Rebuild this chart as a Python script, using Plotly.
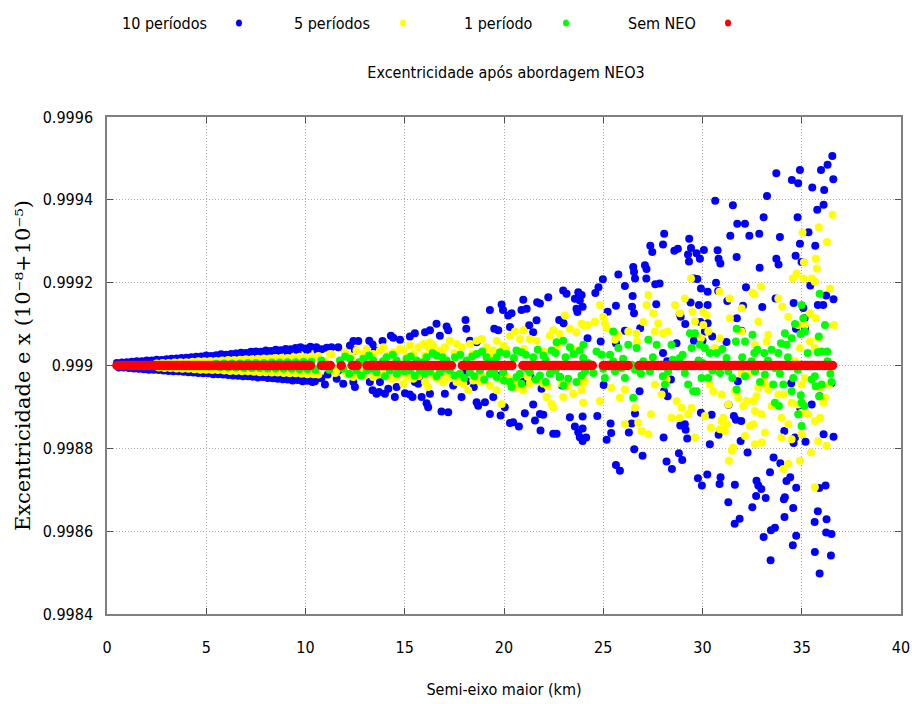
import plotly.graph_objects as go

# ---------------- data ----------------
legend_labels = ["10 períodos", "5 períodos", "1 período", "Sem NEO"]
series_colors = ["#0000ff", "#ffff00", "#00ff00", "#ff0000"]

x_ticks = [0, 5, 10, 15, 20, 25, 30, 35, 40]
x_tick_labels = ["0", "5", "10", "15", "20", "25", "30", "35", "40"]
y_ticks = [0.9984, 0.9986, 0.9988, 0.9990, 0.9992, 0.9994, 0.9996]
y_tick_labels = ["0.9984", "0.9986", "0.9988", "0.999", "0.9992", "0.9994", "0.9996"]

# 10 períodos (blue)
blue_x = [
    0.5, 0.75, 1.0, 1.25, 1.5, 1.75, 2.0, 2.25, 2.5, 2.75,
    3.0, 3.25, 3.5, 3.75, 4.0, 4.25, 4.5, 4.75, 5.0, 5.25,
    5.5, 5.75, 6.0, 6.25, 6.5, 6.75, 7.0, 7.25, 7.5, 7.75,
    8.0, 8.25, 8.5, 8.75, 9.0, 9.25, 9.5, 9.75, 10.0, 10.25,
    0.6, 0.85, 1.1, 1.35, 1.6, 1.85, 2.1, 2.35, 2.6, 2.85,
    3.1, 3.35, 3.6, 3.85, 4.1, 4.35, 4.6, 4.85, 5.1, 5.35,
    5.6, 5.85, 6.1, 6.35, 6.6, 6.85, 7.1, 7.35, 7.6, 7.85,
    8.1, 8.35, 8.6, 8.85, 9.1, 9.35, 9.6, 9.85, 10.1, 10.35,
    6.1, 6.6, 7.1, 7.6, 8.1, 8.6, 9.1, 9.6, 10.1, 10.6,
    6.3, 6.8, 7.3, 7.8, 8.3, 8.8, 9.3, 9.8, 10.3, 10.8,
    10.55, 10.81, 11.07, 10.48, 10.98, 11.12,
    11.31, 11.65, 12.41, 12.66, 12.24, 12.49, 13.21, 13.38, 13.50, 13.88,
    14.30, 14.42, 14.76, 15.26, 15.51, 16.02, 16.27, 16.60, 16.77, 17.11,
    17.19, 18.06, 18.10, 18.28, 18.62, 19.29, 19.88, 19.95, 20.21, 20.38,
    20.30, 19.51, 19.71, 20.97, 20.88, 21.14, 21.27, 21.47, 21.67, 21.81,
    21.64, 22.23, 22.98, 23.15, 23.74, 23.57, 23.82, 23.65, 23.70, 22.78,
    23.00,
    11.65, 11.57, 11.90, 12.41, 12.49, 13.24, 13.38, 13.58, 13.71, 14.00,
    13.75, 14.17, 14.59, 14.50, 15.01, 15.26, 15.39, 15.51, 15.68, 15.73,
    15.85, 16.27, 16.18, 16.10, 16.85, 17.19, 17.02, 17.44, 17.86, 18.03,
    18.11, 18.62, 18.70, 19.04, 19.29, 19.46, 19.83, 20.30, 20.46, 20.04,
    20.75, 21.05, 21.56, 21.81, 21.98, 21.47, 21.84, 22.48, 22.65, 22.81,
    22.93, 23.32, 23.57, 23.82, 23.74, 21.24, 21.34, 21.89, 20.97, 19.83,
    18.48,
    36.54, 36.30, 35.97, 36.59, 36.13, 35.53, 34.91, 34.82, 34.50, 33.72,
    36.10, 35.78, 34.79, 33.25, 33.08, 31.53, 30.64, 31.75, 32.14, 31.40,
    32.36, 32.86, 33.90, 35.34, 34.91, 35.68, 28.07, 28.01, 27.37, 27.47,
    28.58, 28.76, 29.33, 29.42, 29.27, 29.32, 29.70, 29.87, 30.07, 30.76,
    30.81, 30.90, 31.72, 32.88, 33.72, 33.83, 34.69, 34.99, 26.51, 26.55,
    25.76, 27.10, 27.18, 26.60, 27.17, 26.09, 27.62, 27.84, 29.57, 29.74,
    29.92, 30.26, 30.68, 30.79, 32.19, 33.01, 32.04, 31.25, 33.68, 34.59,
    35.08, 35.43, 35.81, 36.08, 36.23, 36.60, 26.48, 26.45, 26.55, 25.64,
    27.67, 28.86, 28.90, 29.40, 29.82, 30.26, 29.13, 29.89, 30.26, 30.12,
    29.57, 30.00, 30.49, 31.21, 31.73, 31.97, 35.14, 34.71, 35.16, 24.60,
    24.76, 24.98, 23.91, 23.96, 24.21, 25.22, 26.09, 24.87, 25.64, 26.86,
    28.01, 28.22, 28.41, 28.06, 26.83, 25.02, 26.60, 26.43, 26.29, 26.56,
    26.98, 25.37, 25.40, 25.17, 24.70, 23.96, 23.96, 23.96, 24.14, 28.04,
    28.88, 29.11, 29.15, 29.23, 29.92, 30.37, 30.46, 30.81, 28.81, 28.98,
    28.19, 28.46, 25.64, 25.84, 29.77, 29.97, 30.24, 30.91, 30.86, 31.63,
    31.30, 31.62, 31.87, 31.58, 31.68, 31.95, 31.92, 32.27, 32.72, 32.81,
    32.96, 32.70, 33.18, 32.51, 33.08, 33.45, 33.65, 33.40, 33.92, 33.58,
    34.10, 34.15, 34.23, 34.42, 34.57, 34.72, 33.43, 34.55, 34.72, 34.13,
    34.12, 34.59, 35.19, 34.66, 34.92, 35.50, 35.90, 36.49, 36.10, 36.60,
    35.88, 36.20, 35.81, 35.65, 36.25, 36.23, 36.50, 35.66, 36.47, 35.90,
    34.47, 31.78, 31.31, 28.24, 28.69,
]
blue_y = [
    0.999006, 0.999007, 0.999008, 0.999009, 0.999010, 0.999010, 0.999012, 0.999012, 0.999014, 0.999013,
    0.999015, 0.999016, 0.999017, 0.999018, 0.999019, 0.999020, 0.999021, 0.999022, 0.999024, 0.999023,
    0.999025, 0.999027, 0.999026, 0.999028, 0.999029, 0.999031, 0.999030, 0.999033, 0.999034, 0.999033,
    0.999036, 0.999035, 0.999038, 0.999037, 0.999040, 0.999039, 0.999042, 0.999044, 0.999041, 0.999045,
    0.998995, 0.998995, 0.998994, 0.998993, 0.998992, 0.998991, 0.998990, 0.998990, 0.998989, 0.998988,
    0.998987, 0.998986, 0.998986, 0.998985, 0.998984, 0.998983, 0.998982, 0.998981, 0.998981, 0.998979,
    0.998979, 0.998978, 0.998977, 0.998976, 0.998975, 0.998974, 0.998974, 0.998973, 0.998971, 0.998972,
    0.998970, 0.998969, 0.998968, 0.998967, 0.998966, 0.998964, 0.998965, 0.998962, 0.998963, 0.998960,
    0.999020, 0.999022, 0.999024, 0.999026, 0.999028, 0.999030, 0.999031, 0.999033, 0.999034, 0.999036,
    0.998982, 0.998980, 0.998979, 0.998977, 0.998976, 0.998974, 0.998973, 0.998971, 0.998970, 0.998969,
    0.999044, 0.999039, 0.999043, 0.998962, 0.998954, 0.998978,
    0.999044, 0.999044, 0.999059, 0.999059, 0.999048, 0.999036, 0.999060, 0.999051, 0.999036, 0.999059,
    0.999072, 0.999067, 0.999062, 0.999070, 0.999078, 0.999080, 0.999085, 0.999101, 0.999072, 0.999094,
    0.999085, 0.999110, 0.999089, 0.999060, 0.999056, 0.999134, 0.999147, 0.999134, 0.999121, 0.999126,
    0.999093, 0.999089, 0.999085, 0.999159, 0.999134, 0.999137, 0.999097, 0.999080, 0.999153, 0.999150,
    0.999109, 0.999165, 0.999181, 0.999173, 0.999177, 0.999161, 0.999157, 0.999137, 0.999129, 0.999110,
    0.999102,
    0.998988, 0.998968, 0.998956, 0.998960, 0.998948, 0.998960, 0.998940, 0.998932, 0.998936, 0.998932,
    0.998960, 0.998944, 0.998948, 0.998924, 0.998933, 0.998930, 0.998924, 0.998960, 0.998956, 0.998972,
    0.998924, 0.998932, 0.998899, 0.998909, 0.998889, 0.998887, 0.998932, 0.998952, 0.998924, 0.998980,
    0.998962, 0.998911, 0.998903, 0.998911, 0.998883, 0.998924, 0.998879, 0.998861, 0.998863, 0.998899,
    0.998853, 0.998885, 0.998867, 0.998883, 0.998881, 0.998906, 0.998843, 0.998835, 0.998835, 0.998972,
    0.998952, 0.998875, 0.998853, 0.998827, 0.998839, 0.998996, 0.998972, 0.998944, 0.998960, 0.998976,
    0.998948,
    0.999506, 0.999485, 0.999472, 0.999450, 0.999424, 0.999430, 0.999472, 0.999440, 0.999448, 0.999464,
    0.999388, 0.999376, 0.999358, 0.999409, 0.999358, 0.999387, 0.999398, 0.999342, 0.999342, 0.999313,
    0.999313, 0.999318, 0.999310, 0.999322, 0.999294, 0.999289, 0.999318, 0.999292, 0.999289, 0.999274,
    0.999277, 0.999282, 0.999306, 0.999284, 0.999268, 0.999251, 0.999271, 0.999258, 0.999279, 0.999278,
    0.999258, 0.999246, 0.999262, 0.999236, 0.999258, 0.999244, 0.999265, 0.999250, 0.999238, 0.999226,
    0.999220, 0.999242, 0.999233, 0.999210, 0.999210, 0.999192, 0.999196, 0.999198, 0.999210, 0.999209,
    0.999186, 0.999178, 0.999200, 0.999180, 0.999189, 0.999141, 0.999144, 0.999156, 0.999162, 0.999151,
    0.999139, 0.999193, 0.999146, 0.999146, 0.999169, 0.999160, 0.999168, 0.999142, 0.999126, 0.999144,
    0.999148, 0.999124, 0.999118, 0.999152, 0.999146, 0.999146, 0.999100, 0.999105, 0.999102, 0.999082,
    0.999060, 0.999060, 0.999070, 0.999057, 0.999114, 0.999084, 0.999114, 0.999089, 0.999090, 0.999175,
    0.999189, 0.999208, 0.999170, 0.999142, 0.999066, 0.999130, 0.999084, 0.999058, 0.999054, 0.999090,
    0.999030, 0.999010, 0.998966, 0.998938, 0.998938, 0.998953, 0.998884, 0.998860, 0.998838, 0.998798,
    0.998782, 0.998860, 0.998837, 0.998821, 0.998878, 0.998877, 0.998848, 0.998818, 0.998826, 0.998826,
    0.998855, 0.998858, 0.998845, 0.998824, 0.998886, 0.998810, 0.998881, 0.998833, 0.998788, 0.998772,
    0.998768, 0.998750, 0.998760, 0.998746, 0.998728, 0.998710, 0.998737, 0.998730, 0.998714, 0.998712,
    0.998670, 0.998618, 0.998630, 0.998878, 0.998869, 0.998866, 0.998818, 0.998790, 0.998722, 0.998710,
    0.998702, 0.998685, 0.998680, 0.998658, 0.998586, 0.998602, 0.998608, 0.998742, 0.998764, 0.998778,
    0.998677, 0.998682, 0.998721, 0.998730, 0.998656, 0.998705, 0.998530, 0.998566, 0.998589, 0.998634,
    0.998842, 0.998813, 0.998816, 0.998826, 0.998898, 0.998906, 0.998926, 0.998957, 0.998834, 0.998828,
    0.998704, 0.998710, 0.998648, 0.998622, 0.998629, 0.998597, 0.998593, 0.998550, 0.998541, 0.998498,
    0.998957, 0.998962, 0.998905, 0.998926, 0.999054,
]

# 5 períodos (yellow)
yellow_x = [
    2.5, 2.8, 3.1, 3.4, 3.7, 4.0, 4.3, 4.6, 4.9, 5.2,
    5.5, 5.8, 6.1, 6.4, 6.7, 7.0, 7.3, 7.6, 7.9, 8.2,
    8.5, 8.8, 9.1, 9.4, 9.7, 10.0, 10.3,
    2.6, 2.9, 3.2, 3.5, 3.8, 4.1, 4.4, 4.7, 5.0, 5.3,
    5.6, 5.9, 6.2, 6.5, 6.8, 7.1, 7.4, 7.7, 8.0, 8.3,
    8.6, 8.9, 9.2, 9.5, 9.8, 10.1, 10.4,
    10.65, 10.98, 11.3, 10.65, 11.5,
    11.23, 11.99, 12.57, 12.91, 13.75, 13.92, 14.42, 14.76, 14.92, 15.43,
    15.68, 15.93, 16.18, 16.27, 16.43, 16.77, 17.02, 17.27, 17.61, 17.86,
    18.28, 18.62, 18.87, 19.12, 19.46, 19.63, 19.96, 20.30, 20.55, 20.80,
    20.97, 21.30, 21.64, 22.31, 22.48, 22.81, 23.07, 23.32, 23.65, 23.91,
    11.57, 12.07, 12.41, 12.91, 13.41, 13.92, 14.34, 14.59, 14.92, 15.43,
    16.02, 16.18, 16.60, 16.94, 17.27, 17.61, 17.95, 18.20, 18.45, 18.95,
    19.29, 19.63, 19.88, 19.79, 20.30, 20.55, 20.97, 21.30, 21.64, 22.14,
    22.40, 22.48, 22.98, 22.90, 23.49, 24.07,
    13.08, 15.26, 13.41, 15.09, 17.11, 18.79, 20.63, 21.98,
    12.3, 13.3, 14.2, 15.1, 16.0, 16.9, 17.5, 18.4, 19.3, 20.1,
    21.0, 22.0, 22.7, 23.5,
    12.8, 13.7, 14.7, 15.7, 16.4, 17.7, 18.6, 19.5, 20.2, 21.2,
    22.2, 23.2, 23.9,
    36.55, 36.27, 35.86, 35.71, 35.76, 35.04, 35.11, 35.08, 35.50, 35.66,
    36.42, 34.55, 34.74, 33.82, 34.02, 34.32, 34.82, 35.16, 35.41, 35.70,
    35.83, 36.62, 35.66, 35.41, 32.51, 32.61, 32.94, 31.36, 30.86, 31.97,
    32.81, 33.31, 33.23, 32.64, 31.97, 31.38, 30.88, 30.63, 30.29, 30.04,
    29.92, 29.50, 29.62, 29.11, 28.86, 28.61, 28.02, 28.24, 27.77, 27.60,
    27.52, 27.18, 27.27, 27.02, 26.68, 26.70, 26.26, 25.76, 25.59, 25.08,
    25.17, 25.00, 24.58, 23.99, 24.24, 24.83, 29.42, 30.04, 30.21,
    34.91, 34.66, 32.64, 32.30, 31.97, 33.11, 33.15, 32.81, 33.31, 33.82,
    34.07, 34.49, 34.82, 34.99, 35.33, 35.66, 35.92, 36.17, 36.08, 35.92,
    36.38, 36.25, 35.83, 35.66, 35.46, 34.99, 34.91, 34.49, 34.32, 33.98,
    34.32, 34.07, 33.48, 32.98, 32.56, 32.64, 32.72, 32.56, 32.39, 32.14,
    31.55, 31.47, 31.33, 31.13, 30.88, 30.96, 31.05, 31.23, 31.30, 31.80,
    32.05, 32.22, 30.42, 30.12, 29.62, 29.28, 29.45, 28.95, 28.70, 28.86,
    28.19, 27.94, 27.60, 27.40, 27.27, 26.76, 26.09, 25.84, 24.83, 23.99,
    23.99, 25.39, 26.09, 26.93, 26.60, 28.44, 30.37, 30.54, 30.96, 31.63,
    32.64, 32.98, 33.14, 33.98, 34.99, 35.16,
]
yellow_y = [
    0.999005, 0.999006, 0.999006, 0.999007, 0.999008, 0.999008, 0.999009, 0.999010, 0.999010, 0.999011,
    0.999011, 0.999012, 0.999013, 0.999013, 0.999014, 0.999015, 0.999015, 0.999016, 0.999017, 0.999017,
    0.999018, 0.999019, 0.999018, 0.999020, 0.999021, 0.999020, 0.999022,
    0.998995, 0.998994, 0.998994, 0.998993, 0.998992, 0.998992, 0.998991, 0.998990, 0.998990, 0.998989,
    0.998989, 0.998988, 0.998987, 0.998987, 0.998986, 0.998986, 0.998985, 0.998984, 0.998984, 0.998983,
    0.998983, 0.998982, 0.998981, 0.998981, 0.998980, 0.998979, 0.998979,
    0.999023, 0.999010, 0.999027, 0.998978, 0.998982,
    0.999028, 0.999032, 0.999036, 0.999028, 0.999036, 0.999044, 0.999032, 0.999040, 0.999036, 0.999028,
    0.999044, 0.999052, 0.999044, 0.999056, 0.999048, 0.999036, 0.999044, 0.999060, 0.999052, 0.999044,
    0.999052, 0.999060, 0.999064, 0.999044, 0.999036, 0.999060, 0.999048, 0.999072, 0.999082, 0.999064,
    0.999085, 0.999064, 0.999060, 0.999072, 0.999085, 0.999076, 0.999121, 0.999089, 0.999080, 0.999101,
    0.998988, 0.998980, 0.998972, 0.998976, 0.998972, 0.998980, 0.998968, 0.998972, 0.998956, 0.998968,
    0.998960, 0.998948, 0.998968, 0.998960, 0.998972, 0.998960, 0.998956, 0.998940, 0.998964, 0.998972,
    0.998952, 0.998940, 0.998907, 0.998968, 0.998956, 0.998964, 0.998940, 0.998956, 0.998964, 0.998924,
    0.998907, 0.998899, 0.998924, 0.998956, 0.998932, 0.998964,
    0.999040, 0.999048, 0.999028, 0.998972, 0.998972, 0.998960, 0.998948, 0.998956,
    0.999022, 0.999018, 0.999026, 0.999020, 0.999024, 0.999026, 0.999030, 0.999028, 0.999026, 0.999040,
    0.999040, 0.999034, 0.999048, 0.999040,
    0.998984, 0.998978, 0.998982, 0.998974, 0.998976, 0.998976, 0.998970, 0.998978, 0.998970, 0.998972,
    0.998950, 0.998950, 0.998940,
    0.999364, 0.999298, 0.999334, 0.999258, 0.999234, 0.999321, 0.999249, 0.999210, 0.999210, 0.999202,
    0.999186, 0.999210, 0.999222, 0.999162, 0.999142, 0.999118, 0.999098, 0.999098, 0.999126, 0.999114,
    0.999066, 0.999098, 0.999042, 0.999058, 0.999176, 0.999172, 0.999191, 0.999162, 0.999178, 0.999138,
    0.999106, 0.999074, 0.999058, 0.999050, 0.999082, 0.999114, 0.999066, 0.999042, 0.999082, 0.999098,
    0.999066, 0.999130, 0.999106, 0.999162, 0.999126, 0.999146, 0.999078, 0.999082, 0.999102, 0.999082,
    0.999126, 0.999146, 0.999170, 0.999105, 0.999078, 0.999058, 0.999082, 0.999074, 0.999062, 0.999102,
    0.999090, 0.999118, 0.999106, 0.999098, 0.999098, 0.999146, 0.999210, 0.999130, 0.999122,
    0.999042, 0.999010, 0.998986, 0.998978, 0.998980, 0.998966, 0.998954, 0.998946, 0.998942, 0.998930,
    0.998930, 0.998910, 0.998906, 0.998886, 0.998882, 0.998866, 0.998874, 0.998922, 0.998910, 0.998946,
    0.998954, 0.998806, 0.998818, 0.998706, 0.998790, 0.998834, 0.998770, 0.998822, 0.998858, 0.998826,
    0.998762, 0.998750, 0.998902, 0.998882, 0.998914, 0.998890, 0.998926, 0.998858, 0.998854, 0.998830,
    0.998802, 0.998794, 0.998770, 0.998842, 0.998846, 0.998866, 0.998874, 0.998858, 0.998906, 0.998922,
    0.998902, 0.998914, 0.998850, 0.998878, 0.998826, 0.998882, 0.998898, 0.998898, 0.998914, 0.998874,
    0.998966, 0.998930, 0.998954, 0.998882, 0.998834, 0.998862, 0.998858, 0.998922, 0.998914, 0.998910,
    0.998958, 0.998946, 0.998942, 0.998842, 0.998898, 0.998874, 0.998954, 0.998938, 0.998930, 0.998938,
    0.998810, 0.998814, 0.998838, 0.998874, 0.998954, 0.998970,
]

# 1 período (green)
green_x = [
    5.5, 5.9, 6.3, 6.7, 7.1, 7.5, 7.9, 8.3, 8.7, 9.1, 9.5, 9.9, 10.3,
    5.7, 6.1, 6.5, 6.9, 7.3, 7.7, 8.1, 8.5, 8.9, 9.3, 9.7, 10.1, 10.5,
    10.8, 11.2,
    11.73, 12.24, 12.91, 13.41, 14.08, 14.59, 15.09, 15.60, 16.10, 16.60,
    17.11, 17.53, 18.11, 18.62, 19.12, 19.63, 20.13, 20.63, 20.88, 21.47,
    21.98, 22.40, 22.65, 22.98, 23.32, 23.82,
    11.90, 12.57, 13.08, 13.58, 14.25, 14.84, 15.26, 15.76, 16.27, 16.77,
    17.27, 17.78, 18.28, 18.79, 19.29, 19.63, 19.96, 20.30, 20.63, 20.88,
    21.30, 21.81, 22.31, 22.81, 23.23, 23.65, 20.38, 21.14,
    12.0, 12.7, 13.2, 13.9, 14.4, 15.3, 15.9, 16.4, 16.9, 17.8,
    18.4, 18.9, 19.4, 19.8, 20.5, 21.1, 21.7, 22.1, 22.6, 23.1,
    23.5, 24.0,
    12.2, 12.8, 13.3, 14.0, 14.6, 15.0, 15.5, 16.0, 16.6, 17.0,
    17.5, 18.0, 18.5, 19.0, 19.5, 20.0, 20.8, 21.6, 22.1, 22.6,
    23.0, 23.9,
    35.90, 36.17, 35.86, 35.80, 36.00, 36.28, 36.44, 35.66, 35.50, 36.00,
    35.88, 34.99, 34.95, 35.13, 34.99, 34.82, 35.16, 35.08, 34.99, 34.94,
    34.66, 34.49, 34.15, 34.24, 33.95, 33.82, 33.65, 33.85, 33.65, 33.56,
    33.48, 33.11, 32.76, 32.61, 32.47, 32.52, 32.14, 31.72, 31.68, 31.21,
    31.30, 30.88, 30.71, 30.37, 30.12, 30.29, 30.00, 29.95, 29.70, 29.53,
    29.62, 29.87, 29.45, 29.37, 29.11, 28.86, 28.95, 28.44, 28.27, 28.11,
    27.94, 27.69, 27.35, 27.27, 27.02, 26.68, 26.60, 26.43, 26.26, 26.09,
    25.92, 25.76, 25.59, 25.50, 25.34, 25.08, 24.92, 24.66, 24.50, 24.24,
    24.08, 23.99, 26.51, 28.19, 28.61, 29.28, 31.72, 32.14, 32.64, 33.14,
    34.07, 34.57, 34.49, 35.50,
    25.0, 25.5, 26.0, 26.9, 27.5, 28.0, 28.5, 29.0, 29.8, 30.5,
    31.0, 31.5, 32.0, 32.9, 33.3, 33.9, 34.3, 34.8, 35.3, 35.7,
    36.3, 36.5,
]
green_y = [
    0.999004, 0.999005, 0.999005, 0.999005, 0.999006, 0.999006, 0.999006, 0.999007, 0.999007, 0.999008, 0.999008, 0.999009, 0.999009,
    0.998996, 0.998995, 0.998995, 0.998994, 0.998994, 0.998994, 0.998993, 0.998993, 0.998992, 0.998992, 0.998991, 0.998991, 0.998990,
    0.999012, 0.998990,
    0.999012, 0.999016, 0.999016, 0.999012, 0.999020, 0.999012, 0.999016, 0.999012, 0.999020, 0.999024,
    0.999012, 0.999020, 0.999012, 0.999028, 0.999020, 0.999020, 0.999028, 0.999036, 0.999032, 0.999020,
    0.999024, 0.999036, 0.999056, 0.999060, 0.999044, 0.999036,
    0.998992, 0.998988, 0.998988, 0.998984, 0.998988, 0.998992, 0.998988, 0.998988, 0.998986, 0.998984,
    0.998988, 0.998980, 0.998984, 0.998988, 0.998980, 0.998972, 0.998984, 0.998960, 0.998972, 0.998956,
    0.998984, 0.998976, 0.998980, 0.998972, 0.998968, 0.998960, 0.998948, 0.998992,
    0.999022, 0.999008, 0.999024, 0.999010, 0.999026, 0.999022, 0.999008, 0.999030, 0.999020, 0.999026,
    0.999022, 0.999034, 0.999010, 0.999032, 0.999018, 0.999026, 0.999038, 0.999014, 0.999030, 0.999020,
    0.999028, 0.999050,
    0.998980, 0.998976, 0.998992, 0.998974, 0.998980, 0.998986, 0.998976, 0.998980, 0.998974, 0.998992,
    0.998976, 0.998970, 0.998974, 0.998966, 0.998986, 0.998964, 0.998980, 0.998966, 0.998960, 0.998988,
    0.998952, 0.998976,
    0.999173, 0.999098, 0.999070, 0.999032, 0.999034, 0.999034, 0.998980, 0.998974, 0.998966, 0.998954,
    0.998926, 0.998910, 0.998928, 0.998902, 0.998854, 0.998882, 0.999082, 0.999114, 0.999146, 0.999076,
    0.999100, 0.999066, 0.999078, 0.999050, 0.999054, 0.999030, 0.998994, 0.998902, 0.998910, 0.998954,
    0.999038, 0.999030, 0.999038, 0.999030, 0.999010, 0.999074, 0.999058, 0.999089, 0.999058, 0.999018,
    0.998986, 0.998982, 0.999030, 0.999030, 0.999042, 0.998970, 0.999006, 0.998970, 0.998938, 0.998938,
    0.999078, 0.999050, 0.999042, 0.999078, 0.998982, 0.999018, 0.999002, 0.999050, 0.998986, 0.998954,
    0.999002, 0.999050, 0.998986, 0.999062, 0.999010, 0.999042, 0.998990, 0.999002, 0.999050, 0.998970,
    0.998994, 0.999042, 0.998986, 0.999082, 0.999026, 0.998970, 0.999026, 0.999034, 0.998982, 0.999006,
    0.998986, 0.999018, 0.998922, 0.999002, 0.999002, 0.998954, 0.998942, 0.998974, 0.998986, 0.998978,
    0.998954, 0.998970, 0.998938, 0.999002,
    0.998992, 0.999010, 0.999016, 0.998980, 0.999020, 0.998974, 0.999014, 0.999026, 0.999012, 0.998988,
    0.999040, 0.998970, 0.999020, 0.998960, 0.999012, 0.998980, 0.999020, 0.998990, 0.999030, 0.998950,
    0.999010, 0.998960,
]

# Sem NEO (red) - all points lie on e = 0.999
red_x = [
    0.5, 0.625, 0.75, 0.875,
    1.0, 1.125, 1.25, 1.375, 1.5, 1.625, 1.75, 1.875,
    2.0, 2.125, 2.25, 2.375, 2.5, 2.625, 2.75, 2.875,
    3.0, 3.125, 3.25, 3.375, 3.5, 3.625, 3.75, 3.875,
    4.0, 4.125, 4.25, 4.375, 4.5, 4.625, 4.75, 4.875,
    5.0, 5.125, 5.25, 5.375, 5.5, 5.625, 5.75, 5.875,
    6.0, 6.125, 6.25, 6.375, 6.5, 6.625, 6.75, 6.875,
    7.0, 7.125, 7.25, 7.375, 7.5, 7.625, 7.75, 7.875,
    8.0, 8.125, 8.25, 8.375, 8.5, 8.625, 8.75, 8.875,
    9.0, 9.125, 9.25, 9.375, 9.5, 9.625, 9.75, 9.875,
    10.0, 10.125, 10.25, 10.8, 10.95, 11.1, 11.25, 11.8,
    12.35, 12.475, 12.6, 13.1, 13.225, 13.35, 13.475, 13.6,
    13.725, 13.85, 13.975, 14.1, 14.225, 14.35, 14.475, 14.6,
    14.725, 14.85, 14.975, 15.1, 15.225, 15.35, 15.475, 15.6,
    15.725, 15.85, 15.975, 16.1, 16.225, 16.35, 16.475, 16.6,
    16.725, 16.85, 16.975, 17.1, 17.225, 17.35,
    17.9, 18.025, 18.15, 18.275, 18.4, 18.525, 18.65, 18.775,
    18.9, 19.025, 19.15, 19.275, 19.4, 19.525, 19.65, 19.775,
    19.9, 20.025, 20.15, 20.275, 20.4,
    20.95, 21.075, 21.2, 21.325, 21.45, 21.575, 21.7, 21.825,
    21.95, 22.075, 22.2, 22.325, 22.45, 22.575, 22.7, 22.825,
    22.95, 23.075, 23.2, 23.325, 23.45, 23.575, 23.7, 23.825,
    23.95, 24.075, 24.2, 24.325, 24.45,
    25.0, 25.125, 25.25, 25.375, 25.5, 25.625, 25.75, 25.875,
    26.0, 26.125, 26.25,
    26.8, 26.925, 27.05, 27.175, 27.3, 27.425, 27.55, 27.675,
    27.8, 27.925, 28.05, 28.175, 28.3, 28.425, 28.55, 28.675,
    28.8, 28.925, 29.05, 29.175, 29.3, 29.425, 29.55, 29.675,
    29.8, 29.925, 30.05, 30.175, 30.3, 30.425, 30.55, 30.675,
    30.8, 30.925, 31.05, 31.175, 31.3, 31.425, 31.55, 31.675,
    31.8, 31.925, 32.05, 32.175, 32.3, 32.425, 32.55, 32.675,
    32.8, 32.925, 33.05, 33.175, 33.3, 33.425, 33.55, 33.675,
    33.8, 33.925, 34.05, 34.175, 34.3, 34.425, 34.55, 34.675,
    34.8, 34.925, 35.05, 35.175, 35.3, 35.425, 35.55, 35.675,
    35.8, 35.925, 36.05, 36.175, 36.3, 36.425, 36.55,
]
red_y = [
    0.999, 0.999, 0.999, 0.999,
    0.999, 0.999, 0.999, 0.999, 0.999, 0.999, 0.999, 0.999,
    0.999, 0.999, 0.999, 0.999, 0.999, 0.999, 0.999, 0.999,
    0.999, 0.999, 0.999, 0.999, 0.999, 0.999, 0.999, 0.999,
    0.999, 0.999, 0.999, 0.999, 0.999, 0.999, 0.999, 0.999,
    0.999, 0.999, 0.999, 0.999, 0.999, 0.999, 0.999, 0.999,
    0.999, 0.999, 0.999, 0.999, 0.999, 0.999, 0.999, 0.999,
    0.999, 0.999, 0.999, 0.999, 0.999, 0.999, 0.999, 0.999,
    0.999, 0.999, 0.999, 0.999, 0.999, 0.999, 0.999, 0.999,
    0.999, 0.999, 0.999, 0.999, 0.999, 0.999, 0.999, 0.999,
    0.999, 0.999, 0.999, 0.999, 0.999, 0.999, 0.999, 0.999,
    0.999, 0.999, 0.999, 0.999, 0.999, 0.999, 0.999, 0.999,
    0.999, 0.999, 0.999, 0.999, 0.999, 0.999, 0.999, 0.999,
    0.999, 0.999, 0.999, 0.999, 0.999, 0.999, 0.999, 0.999,
    0.999, 0.999, 0.999, 0.999, 0.999, 0.999, 0.999, 0.999,
    0.999, 0.999, 0.999, 0.999, 0.999, 0.999,
    0.999, 0.999, 0.999, 0.999, 0.999, 0.999, 0.999, 0.999,
    0.999, 0.999, 0.999, 0.999, 0.999, 0.999, 0.999, 0.999,
    0.999, 0.999, 0.999, 0.999, 0.999,
    0.999, 0.999, 0.999, 0.999, 0.999, 0.999, 0.999, 0.999,
    0.999, 0.999, 0.999, 0.999, 0.999, 0.999, 0.999, 0.999,
    0.999, 0.999, 0.999, 0.999, 0.999, 0.999, 0.999, 0.999,
    0.999, 0.999, 0.999, 0.999, 0.999,
    0.999, 0.999, 0.999, 0.999, 0.999, 0.999, 0.999, 0.999,
    0.999, 0.999, 0.999,
    0.999, 0.999, 0.999, 0.999, 0.999, 0.999, 0.999, 0.999,
    0.999, 0.999, 0.999, 0.999, 0.999, 0.999, 0.999, 0.999,
    0.999, 0.999, 0.999, 0.999, 0.999, 0.999, 0.999, 0.999,
    0.999, 0.999, 0.999, 0.999, 0.999, 0.999, 0.999, 0.999,
    0.999, 0.999, 0.999, 0.999, 0.999, 0.999, 0.999, 0.999,
    0.999, 0.999, 0.999, 0.999, 0.999, 0.999, 0.999, 0.999,
    0.999, 0.999, 0.999, 0.999, 0.999, 0.999, 0.999, 0.999,
    0.999, 0.999, 0.999, 0.999, 0.999, 0.999, 0.999, 0.999,
    0.999, 0.999, 0.999, 0.999, 0.999, 0.999, 0.999, 0.999,
    0.999, 0.999, 0.999, 0.999, 0.999, 0.999, 0.999,
]

assert len(blue_x) == len(blue_y), (len(blue_x), len(blue_y))
assert len(yellow_x) == len(yellow_y), (len(yellow_x), len(yellow_y))
assert len(green_x) == len(green_y), (len(green_x), len(green_y))
assert len(red_x) == len(red_y), (len(red_x), len(red_y))

# ---------------- figure ----------------
NARROW = "Liberation Sans Narrow, Arial Narrow, DejaVu Sans Condensed, sans-serif"
SERIF = "DejaVu Serif, serif"
TXT = 16

series = [(blue_x, blue_y), (yellow_x, yellow_y), (green_x, green_y), (red_x, red_y)]
sizes = [8, 8, 8, 9.5]

fig = go.Figure()
for (xs, ys), name, col, sz in zip(series, legend_labels, series_colors, sizes):
    fig.add_trace(go.Scatter(
        x=xs, y=ys, mode="markers", name=name,
        marker=dict(color=col, size=sz, line=dict(width=0)),
        showlegend=False,
    ))

W, H = 912, 704
L, R, T, B = 107, 11, 117, 90
pw, ph = W - L - R, H - T - B

def px_to_paper_x(px):
    return (px - L) / pw

def py_to_paper_y(py):
    return (H - B - py) / ph

# legend (label followed by its symbol, as in the reference)
legend_text_right = [209, 372, 535, 698]
legend_marker_x = [239, 403, 566, 728]
legend_y = 23
annotations = []
shapes = []
for lab, col, tx, mx in zip(legend_labels, series_colors, legend_text_right, legend_marker_x):
    annotations.append(dict(
        text=lab, xref="paper", yref="paper",
        x=px_to_paper_x(tx), y=py_to_paper_y(legend_y),
        xanchor="right", yanchor="middle", showarrow=False,
        font=dict(family=NARROW, size=TXT, color="black"),
    ))
    shapes.append(dict(
        type="circle", xref="paper", yref="paper",
        xsizemode="pixel", ysizemode="pixel",
        xanchor=px_to_paper_x(mx), yanchor=py_to_paper_y(legend_y),
        x0=-3, x1=3, y0=-3.5, y1=3.5,
        fillcolor=col, line=dict(width=0),
    ))

fig.update_layout(
    width=W, height=H,
    margin=dict(l=L, r=R, t=T, b=B, autoexpand=False),
    paper_bgcolor="white", plot_bgcolor="white",
    showlegend=False,
    title=dict(
        text="Excentricidade após abordagem NEO3",
        x=506 / W, xanchor="center", y=1 - 72 / H, yanchor="middle",
        font=dict(family=NARROW, size=TXT, color="black"),
    ),
    annotations=annotations,
    shapes=shapes,
)

axis_common = dict(
    showgrid=True, gridcolor="#aaaaaa", griddash="1px,2px", gridwidth=1,
    showline=True, linecolor="#808080", linewidth=1.5, mirror="ticks",
    ticks="inside", ticklen=6, tickcolor="#505050", tickwidth=1,
    zeroline=False,
    tickfont=dict(family=NARROW, size=TXT, color="black"),
)

fig.update_xaxes(
    range=[0, 40], tickmode="array", tickvals=x_ticks, ticktext=x_tick_labels,
    ticklabelstandoff=18,
    title=dict(text="Semi-eixo maior (km)", standoff=28,
               font=dict(family=NARROW, size=TXT, color="black")),
    **axis_common,
)
fig.update_yaxes(
    range=[0.9984, 0.9996], tickmode="array", tickvals=y_ticks, ticktext=y_tick_labels,
    ticklabelstandoff=9,
    title=dict(text="Excentricidade e x (10⁻⁸+10⁻⁵)", standoff=6,
               font=dict(family=SERIF, size=21, color="black")),
    **axis_common,
)

fig.write_html("out.html")
